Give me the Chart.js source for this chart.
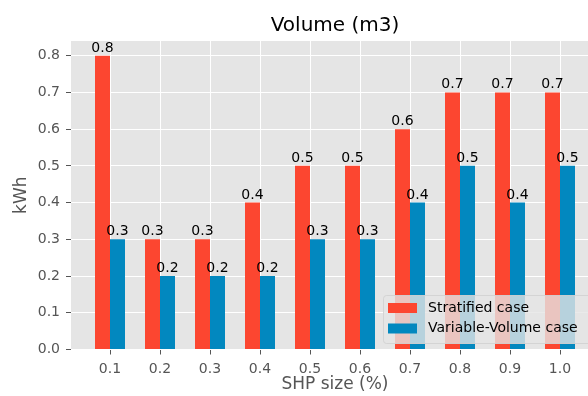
<!DOCTYPE html>
<html>
<head>
<meta charset="utf-8">
<script src="https://cdn.jsdelivr.net/npm/chart.js@4.4.0/dist/chart.umd.min.js"></script>
<style>
  html, body { margin: 0; padding: 0; background: #fff; overflow: hidden; }
  #wrap { position: absolute; left: 0; top: 0; }
</style>
</head>
<body>
<div id="wrap"><canvas id="myChart" width="620" height="396"></canvas></div>
<script>
const sizes = ['0.1', '0.2', '0.3', '0.4', '0.5', '0.6', '0.7', '0.8', '0.9', '1.0'];
const stratified = [0.8, 0.3, 0.3, 0.4, 0.5, 0.5, 0.6, 0.7, 0.7, 0.7];
const variableVolume = [0.3, 0.2, 0.2, 0.2, 0.3, 0.3, 0.4, 0.5, 0.4, 0.5];
const yTicks = [0.0, 0.1, 0.2, 0.3, 0.4, 0.5, 0.6, 0.7, 0.8];

const FONT = 'DejaVu Sans';

// grey panel behind the grid
const panelBg = {
  id: 'panelBg',
  beforeDraw(chart) {
    const {ctx, chartArea: {left, top, width, height}} = chart;
    ctx.save();
    ctx.fillStyle = '#e5e5e5';
    ctx.fillRect(left, top, width, height);
    ctx.restore();
  }
};

// value above every bar
const barValues = {
  id: 'barValues',
  afterDatasetsDraw(chart) {
    const {ctx} = chart;
    ctx.save();
    ctx.font = '14px "' + FONT + '"';
    ctx.fillStyle = '#000';
    ctx.textAlign = 'center';
    ctx.textBaseline = 'alphabetic';
    chart.data.datasets.forEach((ds, i) => {
      chart.getDatasetMeta(i).data.forEach((bar, j) => {
        ctx.fillText(ds.data[j].y.toFixed(1), bar.x, bar.y - 4);
      });
    });
    ctx.restore();
  }
};

// legend box in the lower right of the plot
const boxLegend = {
  id: 'boxLegend',
  afterDraw(chart) {
    const {ctx} = chart;
    const x = 383, y = 295, w = 215, h = 48;
    ctx.save();
    ctx.fillStyle = 'rgba(229,229,229,0.8)';
    ctx.strokeStyle = 'rgba(210,210,210,0.9)';
    ctx.lineWidth = 1;
    ctx.beginPath();
    ctx.roundRect(x + 0.5, y + 0.5, w, h, 3);
    ctx.fill();
    ctx.stroke();
    ctx.font = '14px "' + FONT + '"';
    ctx.textBaseline = 'middle';
    chart.data.datasets.forEach((ds, i) => {
      const rowY = y + 13 + i * 20.5;
      ctx.fillStyle = ds.backgroundColor;
      ctx.fillRect(x + 5, rowY - 5, 29, 10);
      ctx.fillStyle = '#000';
      ctx.fillText(ds.label, x + 45, rowY);
    });
    ctx.restore();
  }
};

const ctx = document.getElementById('myChart').getContext('2d');
const chart = new Chart(ctx, {
  type: 'bar',
  data: {
    datasets: [{
      label: 'Stratified case',
      backgroundColor: '#fc4630',
      data: stratified.map((v, i) => ({x: i, y: v})),
    }, {
      label: 'Variable-Volume case',
      backgroundColor: '#0288bf',
      data: variableVolume.map((v, i) => ({x: i, y: v})),
    }]
  },
  options: {
    responsive: false,
    animation: false,
    devicePixelRatio: 1,
    categoryPercentage: 0.6,
    barPercentage: 1.0,
    layout: {padding: {left: 0, right: 21, top: 0, bottom: 0}},
    plugins: {
      legend: {display: false},
      tooltip: {enabled: false},
      title: {
        display: true,
        text: 'Volume (m3)',
        fullSize: false,
        color: '#000',
        font: {family: FONT, size: 20, weight: 'normal', lineHeight: 1.2},
        padding: {top: 14, bottom: 3}
      }
    },
    scales: {
      x: {
        type: 'linear',
        offset: false,
        min: -0.78,
        max: 9.78,
        afterBuildTicks: s => { s.ticks = sizes.map((_, i) => ({value: i})); },
        afterFit: s => { s.height = 46.5; },
        grid: {offset: false, color: '#ffffff', lineWidth: 1, tickColor: '#555555', tickLength: 5},
        border: {display: false},
        ticks: {
          color: '#555555',
          font: {family: FONT, size: 14},
          padding: 6,
          maxRotation: 0,
          callback: (v) => sizes[v]
        },
        title: {
          display: true,
          text: 'SHP size (%)',
          color: '#555555',
          font: {family: FONT, size: 17},
          padding: {top: 0, bottom: 1}
        }
      },
      y: {
        min: 0,
        max: 0.84,
        afterBuildTicks: s => { s.ticks = yTicks.map(v => ({value: v})); },
        afterFit: s => { s.width = 71; },
        grid: {color: '#ffffff', lineWidth: 1, tickColor: '#555555', tickLength: 5},
        border: {display: false},
        ticks: {
          color: '#555555',
          font: {family: FONT, size: 14},
          padding: 6,
          callback: (v) => v.toFixed(1)
        },
        title: {
          display: true,
          text: 'kWh',
          color: '#555555',
          font: {family: FONT, size: 17},
          padding: {top: 11, bottom: 0}
        }
      }
    }
  },
  plugins: [panelBg, barValues, boxLegend]
});
</script>
</body>
</html>
